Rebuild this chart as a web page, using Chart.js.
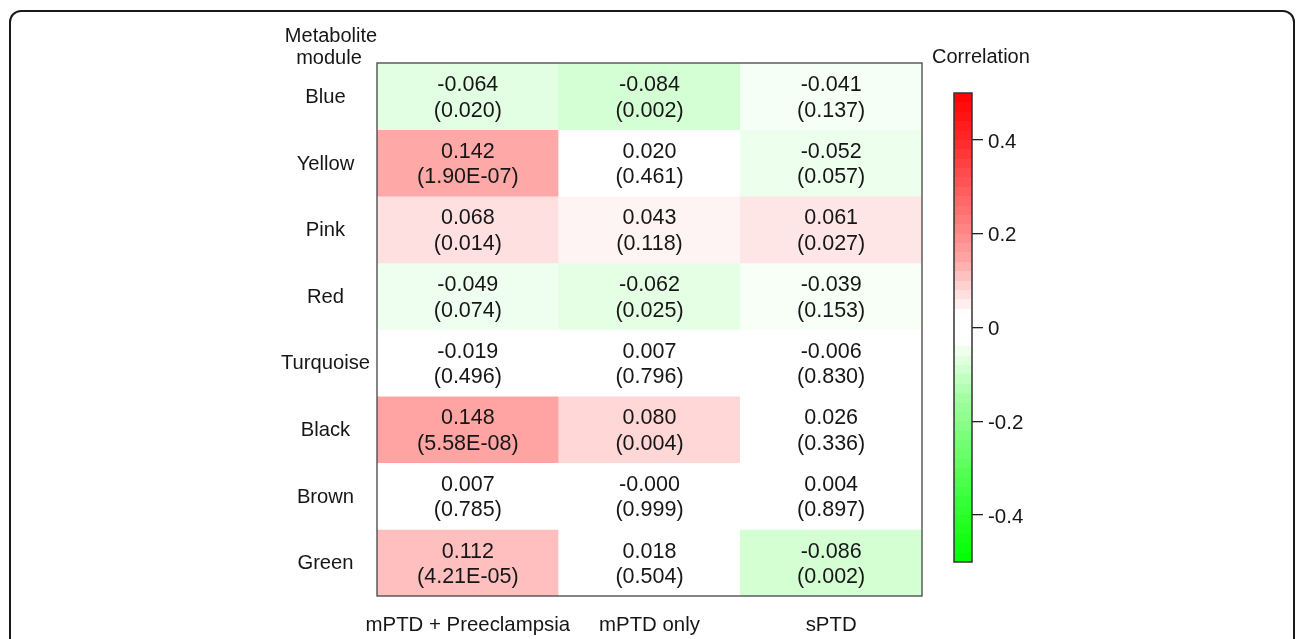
<!DOCTYPE html>
<html>
<head>
<meta charset="utf-8">
<script src="https://cdn.jsdelivr.net/npm/chart.js@4"></script>
<style>
  html, body { margin: 0; padding: 0; background: #fff; overflow: hidden; }
  body { width: 1296px; height: 639px; position: relative; }
  #frame { position: absolute; left: 9px; top: 10px; width: 1286px; height: 700px;
           box-sizing: border-box; border: 2px solid #1a1a1a; border-radius: 12px; background: #fff; }
  #heat { position: absolute; left: 0; top: 0; }
  #bar { position: absolute; left: 920px; top: 0; }
</style>
</head>
<body>
<div id="frame"></div>
<canvas id="heat" width="930" height="639"></canvas>
<canvas id="bar" width="200" height="639"></canvas>
<script>
// rows / columns of the heatmap
const modules = ["Blue", "Yellow", "Pink", "Red", "Turquoise", "Black", "Brown", "Green"];
const groups = ["mPTD + Preeclampsia", "mPTD only", "sPTD"];

// correlation per group (one value per module)
const corrPreeclampsia = [-0.064, 0.142, 0.068, -0.049, -0.019, 0.148, 0.007, 0.112];
const corrMptdOnly = [-0.084, 0.020, 0.043, -0.062, 0.007, 0.080, -0.000, 0.018];
const corrSptd = [-0.041, -0.052, 0.061, -0.039, -0.006, 0.026, 0.004, -0.086];

// p-values as printed
const pPreeclampsia = ["0.020", "1.90E-07", "0.014", "0.074", "0.496", "5.58E-08", "0.785", "4.21E-05"];
const pMptdOnly = ["0.002", "0.461", "0.118", "0.025", "0.796", "0.004", "0.999", "0.504"];
const pSptd = ["0.137", "0.057", "0.027", "0.153", "0.830", "0.336", "0.897", "0.002"];

// colour bar
const barTicks = [-0.4, -0.2, 0, 0.2, 0.4];
const barMin = -0.5;
const barMax = 0.5;

const corrCols = [corrPreeclampsia, corrMptdOnly, corrSptd];
const pCols = [pPreeclampsia, pMptdOnly, pSptd];

const FONT = "'Liberation Sans', Arial, sans-serif";
const INK = "#161616";

// green - white - red ramp (fitted to the picture)
function intensity(a) {
    const pts = [[0, 0], [0.028, 0], [0.148, 0.36], [0.2, 0.46], [0.4, 0.84], [0.5, 1]];
    for (let i = 1; i < pts.length; i++) {
        if (a <= pts[i][0]) {
            const [x0, y0] = pts[i - 1], [x1, y1] = pts[i];
            return y0 + (y1 - y0) * (a - x0) / (x1 - x0);
        }
    }
    return 1;
}
function corrColor(v) {
    const k = Math.round(255 * (1 - intensity(Math.abs(v))));
    return v >= 0 ? `rgb(255,${k},${k})` : `rgb(${k},255,${k})`;
}
function fmt(v) {
    return (Object.is(v, -0) ? "-" : "") + v.toFixed(3);
}

// one dataset per module row, floating bars spanning its row
const heatSets = modules.map((m, i) => ({
    label: m,
    data: groups.map(() => [i, i + 1]),
    backgroundColor: groups.map((g, c) => corrColor(corrCols[c][i])),
    borderWidth: 0,
    barPercentage: 1,
    categoryPercentage: 1
}));

const cellText = {
    id: "cellText",
    afterDatasetsDraw(chart) {
        const ctx = chart.ctx;
        ctx.save();
        ctx.fillStyle = INK;
        ctx.textAlign = "center";
        ctx.textBaseline = "middle";
        ctx.font = `21.5px ${FONT}`;
        chart.data.datasets.forEach((ds, i) => {
            chart.getDatasetMeta(i).data.forEach((el, c) => {
                const cy = (el.y + el.base) / 2;
                ctx.fillText(fmt(corrCols[c][i]), el.x, cy - 11);
                ctx.fillText("(" + pCols[c][i] + ")", el.x, cy + 14.5);
            });
        });
        const a = chart.chartArea;
        ctx.strokeStyle = "#444";
        ctx.lineWidth = 1.3;
        ctx.strokeRect(a.left, a.top, a.right - a.left, a.bottom - a.top);
        // row header
        ctx.font = `20px ${FONT}`;
        ctx.fillText("Metabolite", 331, 36);
        ctx.fillText("module", 329, 58);
        ctx.restore();
    }
};

new Chart(document.getElementById("heat"), {
    type: "bar",
    data: { labels: groups, datasets: heatSets },
    options: {
        responsive: false,
        animation: false,
        layout: { padding: { top: 63, right: 8, left: 0, bottom: 0 } },
        plugins: { legend: { display: false }, tooltip: { enabled: false } },
        scales: {
            x: {
                stacked: true,
                grid: { display: false, drawTicks: false },
                border: { display: false },
                ticks: { color: INK, font: { family: FONT, size: 20.4 }, padding: 17, maxRotation: 0, autoSkip: false },
                afterFit: s => { s.height = 43; }
            },
            y: {
                min: 0,
                max: modules.length,
                reverse: true,
                grid: { display: false, drawTicks: false },
                border: { display: false },
                afterBuildTicks: s => { s.ticks = modules.map((m, i) => ({ value: i + 0.5 })); },
                ticks: {
                    color: INK,
                    font: { family: FONT, size: 20.2 },
                    crossAlign: "center",
                    padding: 7,
                    autoSkip: false,
                    labelOffset: 1,
                    callback: (v, idx) => modules[idx]
                },
                afterFit: s => { s.width = 377; }
            }
        }
    },
    plugins: [cellText]
});

// colour bar
function barGradient(context) {
    const chart = context.chart;
    const y = chart.scales.y;
    if (!chart.chartArea || !y) return "#fff";
    const g = chart.ctx.createLinearGradient(0, y.getPixelForValue(barMin), 0, y.getPixelForValue(barMax));
    const steps = 50;
    for (let k = 0; k < steps; k++) {
        const v = barMin + (k + 0.5) * (barMax - barMin) / steps;
        const col = corrColor(v);
        g.addColorStop(k / steps, col);
        g.addColorStop((k + 1) / steps, col);
    }
    return g;
}

const barFrame = {
    id: "barFrame",
    afterDatasetsDraw(chart) {
        const ctx = chart.ctx, a = chart.chartArea;
        ctx.save();
        ctx.strokeStyle = "#333";
        ctx.lineWidth = 1.5;
        ctx.strokeRect(a.left, a.top, a.right - a.left, a.bottom - a.top);
        ctx.fillStyle = INK;
        ctx.font = `20px ${FONT}`;
        ctx.textAlign = "left";
        ctx.textBaseline = "middle";
        ctx.fillText("Correlation", 12, 57);
        ctx.restore();
    }
};

new Chart(document.getElementById("bar"), {
    type: "bar",
    data: {
        labels: ["Correlation"],
        datasets: [{
            data: [[barMin, barMax]],
            backgroundColor: barGradient,
            borderWidth: 0,
            barPercentage: 1,
            categoryPercentage: 1
        }]
    },
    options: {
        responsive: false,
        animation: false,
        layout: { padding: { top: 93, left: 34, right: 88, bottom: 77 } },
        plugins: { legend: { display: false }, tooltip: { enabled: false } },
        scales: {
            x: { display: false },
            y: {
                position: "right",
                min: barMin,
                max: barMax,
                afterBuildTicks: s => { s.ticks = barTicks.map(v => ({ value: v })); },
                grid: { drawOnChartArea: false, drawTicks: true, tickLength: 11, color: "#222", lineWidth: 1.3 },
                border: { display: false },
                ticks: {
                    color: INK,
                    font: { family: FONT, size: 20.5 },
                    padding: 5,
                    labelOffset: 2,
                    callback: v => String(v)
                },
                afterFit: s => { s.width = 60; }
            }
        }
    },
    plugins: [barFrame]
});
</script>
</body>
</html>
